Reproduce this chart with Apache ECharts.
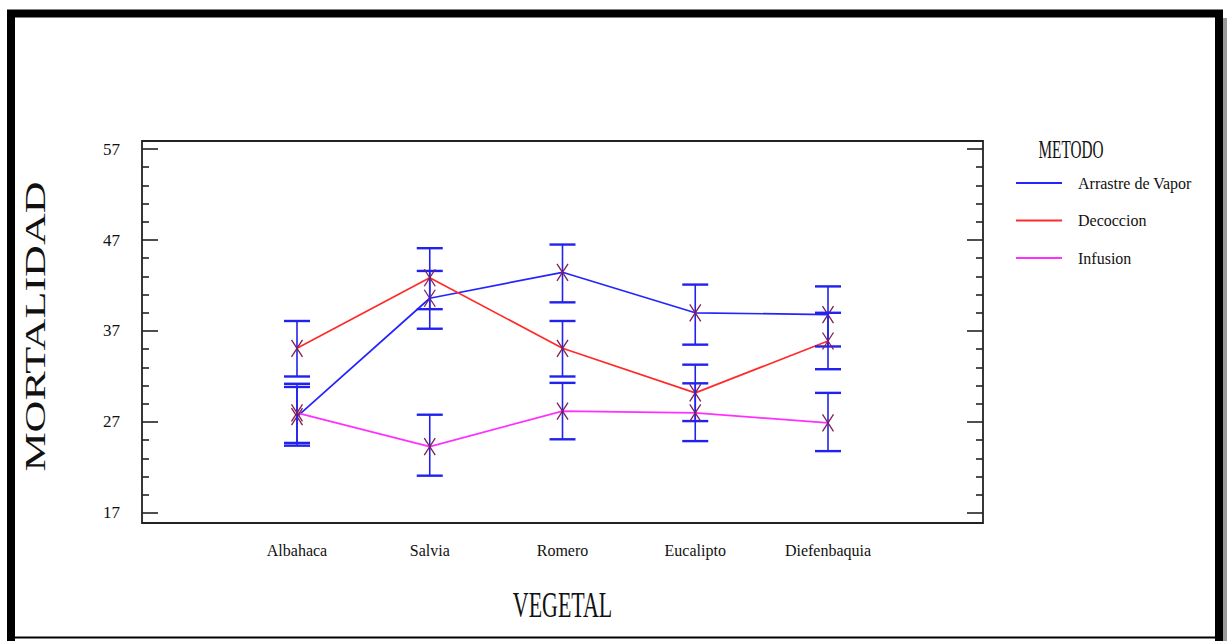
<!DOCTYPE html>
<html>
<head>
<meta charset="utf-8">
<script src="https://cdn.jsdelivr.net/npm/echarts@6/dist/echarts.min.js"></script>
<style>
  html, body { margin: 0; padding: 0; background: #ffffff; }
  #chart { width: 1229px; height: 641px; }
</style>
</head>
<body>
<div id="chart"></div>
<script>
// Plant species tested
const categories = ['Albahaca', 'Salvia', 'Romero', 'Eucalipto', 'Diefenbaquia'];

// Mean mortality per extraction method, with interval limits
const vaporMean = [27.6, 40.6, 43.45, 39.0, 38.8];
const vaporLow  = [24.4, 37.25, 40.15, 35.5, 35.3];
const vaporHigh = [30.85, 43.6, 46.5, 42.1, 41.9];

const decoccionMean = [35.1, 42.85, 35.1, 30.2, 35.9];
const decoccionLow  = [32.0, 39.4, 32.0, 27.1, 32.8];
const decoccionHigh = [38.1, 46.1, 38.1, 33.3, 39.0];

const infusionMean = [28.0, 24.3, 28.2, 28.0, 26.9];
const infusionLow  = [24.7, 21.1, 25.1, 24.9, 23.8];
const infusionHigh = [31.2, 27.8, 31.3, 31.25, 30.2];

const methodNames = ['Arrastre de Vapor', 'Decoccion', 'Infusion'];

// Axis ticks
const yMajorTicks = [17, 27, 37, 47, 57];
const yMinorTicks = [19, 21, 23, 25, 29, 31, 33, 35, 39, 41, 43, 45, 49, 51, 53, 55];

const FONT = "'Liberation Serif', 'Times New Roman', serif";
const LINE_COLORS = ['#2424ff', '#ff2a2a', '#ff30ff'];
const BAR_COLOR = '#2222ee';
const MARK_COLOR = '#7e1f55';

const Y_MIN = 15.9, Y_MAX = 57.88;
const X_MIN = -0.1676, X_MAX = 6.1676;

function linePoints(values) {
  return values.map((v, i) => [i + 1, v]);
}
function barPoints(mean, low, high) {
  return mean.map((v, i) => [i + 1, low[i], high[i], v]);
}

// Interval bar with end caps and an "x" marker at the mean
function renderInterval(params, api) {
  const x = api.value(0);
  const lo = api.coord([x, api.value(1)]);
  const hi = api.coord([x, api.value(2)]);
  const m = api.coord([x, api.value(3)]);
  const cap = 13, mw = 5.5, mh = 8.5;
  return {
    type: 'group',
    children: [
      { type: 'line', shape: { x1: lo[0], y1: hi[1], x2: lo[0], y2: lo[1] },
        style: { stroke: BAR_COLOR, lineWidth: 1.6 } },
      { type: 'line', shape: { x1: hi[0] - cap, y1: hi[1], x2: hi[0] + cap, y2: hi[1] },
        style: { stroke: BAR_COLOR, lineWidth: 2.4 } },
      { type: 'line', shape: { x1: lo[0] - cap, y1: lo[1], x2: lo[0] + cap, y2: lo[1] },
        style: { stroke: BAR_COLOR, lineWidth: 2.4 } },
      { type: 'line', shape: { x1: m[0] - mw, y1: m[1] - mh, x2: m[0] + mw, y2: m[1] + mh },
        style: { stroke: MARK_COLOR, lineWidth: 1.3 } },
      { type: 'line', shape: { x1: m[0] + mw, y1: m[1] - mh, x2: m[0] - mw, y2: m[1] + mh },
        style: { stroke: MARK_COLOR, lineWidth: 1.3 } }
    ]
  };
}

// kind: 'label' (tick labels only) or 'tick' (inward ticks only)
function yAxisDef(position, values, kind, length) {
  return {
    type: 'value',
    position: position,
    offset: 0,
    min: Y_MIN,
    max: Y_MAX,
    axisLine: { show: false },
    splitLine: { show: false },
    axisTick: kind === 'tick' ? {
      show: true,
      inside: true,
      length: length,
      customValues: values,
      lineStyle: { color: '#222', width: 1.6 }
    } : { show: false },
    axisLabel: kind === 'label' ? {
      show: true,
      customValues: values,
      margin: 22,
      fontFamily: FONT,
      fontSize: 17,
      color: '#111'
    } : { show: false }
  };
}

const chart = echarts.init(document.getElementById('chart'), null, { renderer: 'svg' });

const series = [];
const means = [vaporMean, decoccionMean, infusionMean];
const lows = [vaporLow, decoccionLow, infusionLow];
const highs = [vaporHigh, decoccionHigh, infusionHigh];

methodNames.forEach((name, k) => {
  series.push({
    name: name,
    type: 'line',
    data: linePoints(means[k]),
    symbol: 'none',
    lineStyle: { color: LINE_COLORS[k], width: 1.7 },
    itemStyle: { color: LINE_COLORS[k] },
    z: 2
  });
});
methodNames.forEach((name, k) => {
  series.push({
    type: 'custom',
    renderItem: renderInterval,
    data: barPoints(means[k], lows[k], highs[k]),
    encode: { x: 0, y: [1, 2, 3] },
    z: 3
  });
});

chart.setOption({
  animation: false,
  backgroundColor: '#ffffff',
  grid: {
    left: 142, top: 141, width: 841, height: 382,
    show: true, borderColor: '#222', borderWidth: 1.8, backgroundColor: 'transparent'
  },
  xAxis: {
    type: 'value',
    min: X_MIN,
    max: X_MAX,
    axisLine: { show: false },
    axisTick: { show: false },
    splitLine: { show: false },
    axisLabel: {
      customValues: [1, 2, 3, 4, 5],
      formatter: (v) => categories[Math.round(v) - 1] || '',
      margin: 19,
      fontFamily: FONT,
      fontSize: 16,
      color: '#111'
    }
  },
  yAxis: [
    yAxisDef('left', yMajorTicks, 'label', 0),
    yAxisDef('left', yMajorTicks, 'tick', 16),
    yAxisDef('left', yMinorTicks, 'tick', 7),
    yAxisDef('right', yMajorTicks, 'tick', 16),
    yAxisDef('right', yMinorTicks, 'tick', 7)
  ],
  legend: {
    data: methodNames,
    orient: 'vertical',
    left: 1016,
    top: 175,
    padding: 0,
    itemWidth: 46,
    itemHeight: 16,
    itemGap: 21.5,
    icon: 'path://M0,7 L46,7 L46,9 L0,9 Z',
    textStyle: { fontFamily: FONT, fontSize: 16, color: '#111', padding: [0, 0, 0, 11] }
  },
  graphic: [
    // outer frame
    { type: 'polyline', shape: { points: [[11, 641], [11, 13.5], [1219, 13.5], [1219, 641]] },
      style: { stroke: '#000', lineWidth: 8, fill: null }, silent: true },
    { type: 'line', shape: { x1: 1225, y1: 18, x2: 1225, y2: 641 },
      style: { stroke: '#9a9a9a', lineWidth: 4 }, silent: true },
    { type: 'line', shape: { x1: 11, y1: 637.5, x2: 1219, y2: 637.5 },
      style: { stroke: '#000', lineWidth: 2 }, silent: true },
    // titles
    { type: 'text', x: 35, y: 326.5, rotation: Math.PI / 2, scaleX: 1.47, scaleY: 1,
      style: { text: 'MORTALIDAD', font: "30px " + FONT, fill: '#111', align: 'center', verticalAlign: 'middle' } },
    { type: 'text', x: 562.5, y: 604, scaleX: 0.61, scaleY: 1,
      style: { text: 'VEGETAL', font: "36px " + FONT, fill: '#111', align: 'center', verticalAlign: 'middle' } },
    { type: 'text', x: 1071, y: 150, scaleX: 0.61, scaleY: 1,
      style: { text: 'METODO', font: "25px " + FONT, fill: '#111', align: 'center', verticalAlign: 'middle' } }
  ],
  series: series
});
</script>
</body>
</html>
